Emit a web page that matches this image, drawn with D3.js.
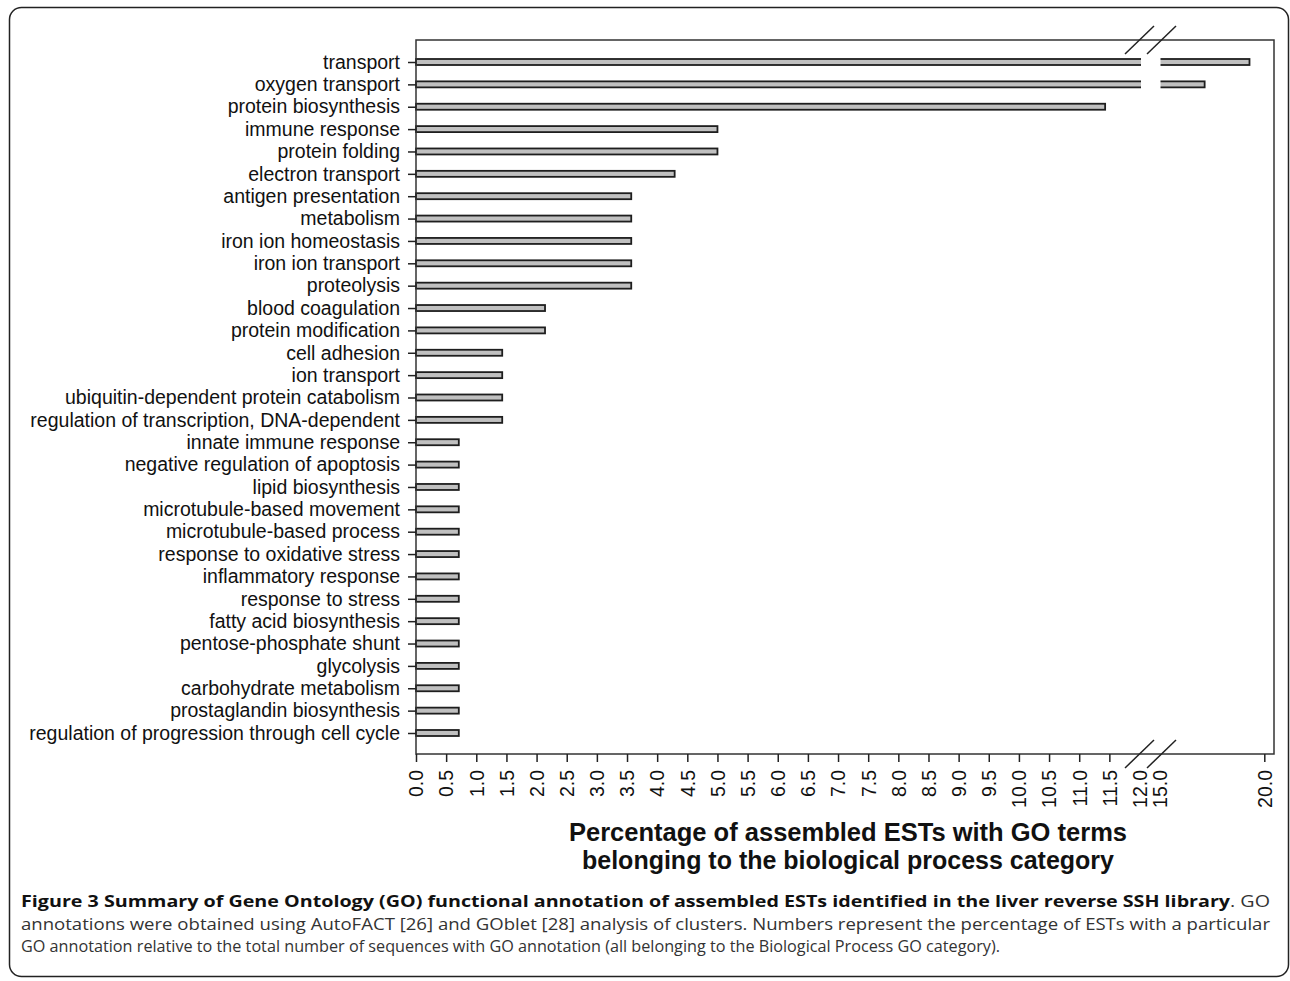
<!DOCTYPE html>
<html>
<head>
<meta charset="utf-8">
<script src="https://cdn.jsdelivr.net/npm/d3@7"></script>
<style>
  body { margin: 0; background: #fff; }
  svg text { font-family: "Liberation Sans", Arial, sans-serif; }
  svg text.caption { font-family: "Open Sans", "Noto Sans", sans-serif; }
</style>
</head>
<body>
<div id="chart"></div>
<script>
// GO biological process categories, top to bottom
const categories = [
  "transport", "oxygen transport", "protein biosynthesis", "immune response",
  "protein folding", "electron transport", "antigen presentation", "metabolism",
  "iron ion homeostasis", "iron ion transport", "proteolysis", "blood coagulation",
  "protein modification", "cell adhesion", "ion transport",
  "ubiquitin-dependent protein catabolism", "regulation of transcription, DNA-dependent",
  "innate immune response", "negative regulation of apoptosis", "lipid biosynthesis",
  "microtubule-based movement", "microtubule-based process", "response to oxidative stress",
  "inflammatory response", "response to stress", "fatty acid biosynthesis",
  "pentose-phosphate shunt", "glycolysis", "carbohydrate metabolism",
  "prostaglandin biosynthesis", "regulation of progression through cell cycle"
];
// percentage of ESTs
const percents = [
  19.29, 17.14, 11.43, 5.00, 5.00, 4.29, 3.57, 3.57, 3.57, 3.57, 3.57, 2.14, 2.14,
  1.43, 1.43, 1.43, 1.43, 0.71, 0.71, 0.71, 0.71, 0.71, 0.71, 0.71, 0.71, 0.71,
  0.71, 0.71, 0.71, 0.71, 0.71
];
const tickValues = [0, 0.5, 1, 1.5, 2, 2.5, 3, 3.5, 4, 4.5, 5, 5.5, 6, 6.5, 7, 7.5,
  8, 8.5, 9, 9.5, 10, 10.5, 11, 11.5, 12, 15, 20];
const breakFrom = 12, breakTo = 15;
const xTitle = ["Percentage of assembled ESTs with GO terms",
                "belonging to the biological process category"];

const W = 1290, H = 981;
const svg = d3.select("#chart").append("svg")
  .attr("width", W).attr("height", H)
  .attr("viewBox", [0, 0, W, H]);

// figure frame
svg.append("rect")
  .attr("x", 9.5).attr("y", 7.5)
  .attr("width", 1279).attr("height", 969)
  .attr("rx", 12)
  .style("fill", "none").style("stroke", "#222").style("stroke-width", 1.5);

const box = { left: 416, right: 1274, top: 40, bottom: 754 };

// broken x scale: 0-12 then 15-20
const x = d3.scaleLinear()
  .domain([0, breakFrom, breakTo, 20])
  .range([416, 1139.5, 1160, 1264.3]);

const y = d3.scalePoint()
  .domain(categories)
  .range([62, 733]);

const barH = 6;

svg.append("g")
  .selectAll("rect")
  .data(categories)
  .join("rect")
  .attr("x", x(0))
  .attr("y", d => y(d) - barH / 2)
  .attr("width", (d, i) => x(percents[i]) - x(0))
  .attr("height", barH)
  .style("fill", "#c0c0c0")
  .style("stroke", "#1e1e1e")
  .style("stroke-width", 1.8);

// white gap where the axis is broken
svg.append("rect")
  .attr("x", x(breakFrom) + 1.5)
  .attr("y", box.top + 1)
  .attr("width", x(breakTo) - x(breakFrom) - 1)
  .attr("height", box.bottom - box.top - 2)
  .style("fill", "#fff");

// plot box
svg.append("rect")
  .attr("x", box.left).attr("y", box.top)
  .attr("width", box.right - box.left).attr("height", box.bottom - box.top)
  .style("fill", "none").style("stroke", "#333").style("stroke-width", 1.5);

// y axis
const yAxis = d3.axisLeft(y).tickSize(8).tickPadding(8);
const ya = svg.append("g")
  .attr("transform", "translate(" + box.left + ",0)")
  .call(yAxis);
ya.select(".domain").remove();
ya.selectAll("line").style("stroke", "#222").style("stroke-width", 1.5);
ya.selectAll("text")
  .style("font-size", "19.5px")
  .style("fill", "#111")
  .style("font-family", "Liberation Sans, Arial, sans-serif");

// x axis
const xAxis = d3.axisBottom(x)
  .tickValues(tickValues)
  .tickSize(8)
  .tickFormat(d3.format(".1f"));
const xa = svg.append("g")
  .attr("transform", "translate(0," + box.bottom + ")")
  .call(xAxis);
xa.select(".domain").remove();
xa.selectAll(".tick line")
  .style("stroke", "#222").style("stroke-width", 1.5)
  .style("display", d => (d === breakFrom || d === breakTo) ? "none" : null);
xa.selectAll(".tick text")
  .attr("transform", "rotate(-90)")
  .attr("x", -16).attr("y", 0).attr("dy", "0.35em")
  .style("text-anchor", "end")
  .style("font-size", "19.5px")
  .style("fill", "#111")
  .style("font-family", "Liberation Sans, Arial, sans-serif");

// break marks on top and bottom edges
[box.top, box.bottom].forEach(yy => {
  [x(breakFrom), x(breakTo) + 1.5].forEach(xx => {
    svg.append("line")
      .attr("x1", xx - 14.5).attr("y1", yy + 14)
      .attr("x2", xx + 14.5).attr("y2", yy - 14)
      .style("stroke", "#222").style("stroke-width", 1.5);
  });
});

// x title
svg.append("g").selectAll("text")
  .data(xTitle)
  .join("text")
  .attr("x", 848)
  .attr("y", (d, i) => 841 + i * 28)
  .attr("text-anchor", "middle")
  .style("font-size", "25px")
  .style("font-weight", "bold")
  .style("fill", "#111")
  .attr("textLength", (d, i) => i === 0 ? 558 : 532)
  .attr("lengthAdjust", "spacingAndGlyphs")
  .text(d => d);

// caption
const cap = svg.append("g");

const l1 = cap.append("text").attr("class", "caption")
  .attr("x", 21).attr("y", 907)
  .style("font-size", "16.5px")
  .attr("textLength", 1249).attr("lengthAdjust", "spacingAndGlyphs");
l1.append("tspan").style("font-weight", "bold").style("fill", "#111")
  .text("Figure 3 Summary of Gene Ontology (GO) functional annotation of assembled ESTs identified in the liver reverse SSH library");
l1.append("tspan").style("fill", "#333").text(". GO");

cap.append("text").attr("class", "caption")
  .attr("x", 21).attr("y", 930)
  .style("font-size", "16.5px")
  .attr("textLength", 1249).attr("lengthAdjust", "spacingAndGlyphs")
  .style("fill", "#333")
  .text("annotations were obtained using AutoFACT [26] and GOblet [28] analysis of clusters. Numbers represent the percentage of ESTs with a particular");

cap.append("text").attr("class", "caption")
  .attr("x", 21).attr("y", 952)
  .style("font-size", "16.5px")
  .attr("textLength", 979).attr("lengthAdjust", "spacingAndGlyphs")
  .style("fill", "#333")
  .text("GO annotation relative to the total number of sequences with GO annotation (all belonging to the Biological Process GO category).");
</script>
</body>
</html>
